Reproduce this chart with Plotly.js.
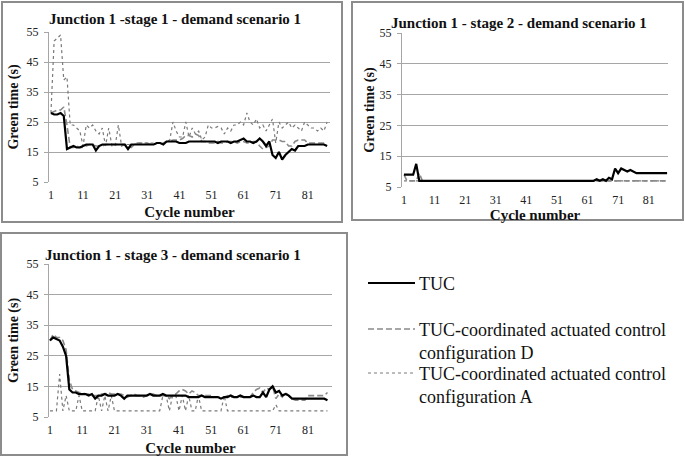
<!DOCTYPE html>
<html>
<head>
<meta charset="utf-8">
<script src="https://cdn.plot.ly/plotly-3.0.1.min.js"></script>
<style>
  html, body { margin:0; padding:0; background:#fff; }
  #chart { width:685px; height:457px; }
</style>
</head>
<body>
<div id="chart"></div>
<script>
// cycle numbers 1..87
const cycles = Array.from({length:87}, (_, i) => i + 1);
const xTicks = [1, 11, 21, 31, 41, 51, 61, 71, 81];
const yTicks = [5, 15, 25, 35, 45, 55];

const seriesNames = [
  "TUC",
  "TUC-coordinated actuated control<br>configuration D",
  "TUC-coordinated actuated control<br>configuration A"
];

// stage 1
const s1Tuc = [
  28, 27.5, 27.5, 28, 27, 16, 16.5, 17, 16.5, 16.5,
  17, 17.5, 17.5, 17.5, 15.5, 17, 17.5, 17.5, 17.5, 17.5,
  17.5, 17.5, 17.5, 17.5, 16, 17.5, 17.5, 17.5, 17.5, 17.5,
  17.5, 17.5, 17.5, 18, 18, 17.5, 18.5, 18.5, 18.5, 18.5,
  18, 18, 18, 18.5, 18.5, 18.5, 18.5, 18.5, 18.5, 18.5,
  18.5, 18.5, 18, 18.5, 18.5, 18.5, 18, 18.5, 18.5, 19,
  19.5, 18.5, 18.5, 18, 18.5, 19.5, 18.5, 17, 18.5, 14,
  13, 15, 12.5, 14, 15, 16, 15.5, 17, 17, 17,
  17.5, 17.5, 17.5, 17.5, 17.5, 17.5, 17
];
const s1ConfD = [
  28, 28.5, 29, 29, 30, 24, 16.5, 16.5, 17, 16.5,
  16.5, 17, 17.5, 17.5, 17, 17, 17, 17.5, 17.5, 17.5,
  17.5, 17.5, 17.5, 17.5, 17, 16.5, 17.5, 18, 18, 18,
  18, 17.5, 17.5, 18, 18, 18, 18.5, 18.5, 19, 19,
  19, 19.5, 20.5, 20.5, 20, 21, 20.5, 18.5, 18.5, 18,
  18, 18, 18.5, 18, 18, 18.5, 18.5, 18.5, 18, 18.5,
  18.5, 18, 18, 18.5, 18.5, 17, 16, 16.5, 17, 19,
  19, 19, 18.5, 18.5, 17, 17, 18.5, 19, 19, 19,
  18, 18, 18, 18, 18, 18, 18
];
const s1ConfA = [
  28, 52, 53, 54, 39, 40, 24, 24, 23, 22,
  17, 24, 23, 24, 22, 21, 23, 17, 23, 17,
  17, 24, 17, 17.5, 17.5, 17.5, 17.5, 18, 18, 18,
  18, 18, 18, 18, 18, 18, 18.5, 19, 25, 22,
  20, 20, 25, 20, 23, 21, 22, 19, 20, 24,
  23, 23, 23.5, 23, 21, 23, 22, 24, 24, 25,
  24, 28, 25, 24, 26, 23, 24, 22, 24, 26,
  18, 25, 23, 24, 25, 23, 24, 23, 22, 25,
  24, 23, 23, 22, 23, 22, 25
];

// stage 2
const s2Tuc = [
  9, 9, 9, 9, 12.5, 7, 7, 7, 7, 7,
  7, 7, 7, 7, 7, 7, 7, 7, 7, 7,
  7, 7, 7, 7, 7, 7, 7, 7, 7, 7,
  7, 7, 7, 7, 7, 7, 7, 7, 7, 7,
  7, 7, 7, 7, 7, 7, 7, 7, 7, 7,
  7, 7, 7, 7, 7, 7, 7, 7, 7, 7,
  7, 7, 7, 7.5, 7, 7.5, 7, 8, 7.5, 11,
  9.5, 11, 10.5, 10, 10.5, 10, 9.5, 9.5, 9.5, 9.5,
  9.5, 9.5, 9.5, 9.5, 9.5, 9.5, 9.5
];
const s2ConfD = [
  9, 7, 7, 7, 7, 9.5, 7, 7, 7, 7,
  7, 7, 7, 7, 7, 7, 7, 7, 7, 7,
  7, 7, 7, 7, 7, 7, 7, 7, 7, 7,
  7, 7, 7, 7, 7, 7, 7, 7, 7, 7,
  7, 7, 7, 7, 7, 7, 7, 7, 7, 7,
  7, 7, 7, 7, 7, 7, 7, 7, 7, 7,
  7, 7, 7, 7, 7, 7, 7, 7, 7, 7,
  7, 7, 7, 7, 7, 7, 7, 7, 7, 7,
  7, 7, 7, 7, 7, 7, 7
];
const s2ConfA = [
  7, 7, 7, 7, 7, 7, 7, 7, 7, 7,
  7, 7, 7, 7, 7, 7, 7, 7, 7, 7,
  7, 7, 7, 7, 7, 7, 7, 7, 7, 7,
  7, 7, 7, 7, 7, 7, 7, 7, 7, 7,
  7, 7, 7, 7, 7, 7, 7, 7, 7, 7,
  7, 7, 7, 7, 7, 7, 7, 7, 7, 7,
  7, 7, 7, 7, 7, 7, 7, 7, 7, 7,
  7, 7, 7, 7, 7, 7, 7, 7, 7, 7,
  7, 7, 7, 7, 7, 7, 7
];

// stage 3
const s3Tuc = [
  30, 31, 30.5, 30, 28, 25, 14, 13, 13, 12.5,
  12.5, 12.5, 12, 12.5, 11, 12, 12, 12.5, 12, 12,
  12, 12.5, 12, 11, 12, 12, 12, 12, 12, 12,
  12, 12.5, 12, 12, 12, 12.5, 12, 12, 12, 12,
  12, 12, 12, 11.5, 11.5, 11.5, 11.5, 12, 11.5, 11.5,
  11.5, 11.5, 11.5, 11, 11.5, 11.5, 12, 11.5, 11.5, 12,
  11.5, 11.5, 11.5, 12, 11.5, 11.5, 13, 11.5, 14, 15,
  13, 13.5, 12, 12.5, 12, 11, 11, 11, 11, 11,
  11, 11, 11, 11, 11, 11, 10.5
];
const s3ConfD = [
  30, 32, 31, 31, 30, 27, 17, 14, 13.5, 13,
  13, 12.5, 12.5, 12, 12, 12, 12.5, 12.5, 13, 12.5,
  12.5, 12.5, 12.5, 12, 11.5, 12, 12.5, 12, 12, 11.5,
  12, 12.5, 12.5, 12, 12, 12, 12, 11, 12, 12.5,
  13.5, 14, 13.5, 12.5, 13.5, 13, 12, 12, 12, 12,
  12, 11.5, 11.5, 11.5, 11.5, 12, 11.5, 11.5, 11.5, 11.5,
  11.5, 11.5, 11.5, 13, 14, 14.5, 13, 14.5, 14, 15,
  11, 12.5, 11.5, 13, 12, 11, 10.5, 10.5, 10.5, 10.5,
  12, 12, 12, 12, 12, 12, 13
];
const s3ConfA = [
  7, 7, 7, 19, 7, 12, 7, 7, 7, 12,
  7, 7, 7, 7, 7, 12, 7, 12, 7, 12,
  7, 7, 7, 7, 7, 7, 7, 7, 7, 7,
  7, 7, 7, 7, 7, 12, 12, 7, 12, 12,
  7, 12, 7, 12, 7, 7, 12, 7, 7, 7,
  7, 7, 7, 7, 12, 7, 7, 7, 7, 7,
  7, 7, 7, 7, 7, 7, 7, 7, 7, 7,
  9, 7, 7, 7, 7, 7, 7, 7, 7, 7,
  7, 7, 7, 7, 7, 7, 7
];

const panelTitles = [
  "Junction 1 -stage 1 - demand scenario 1",
  "Junction 1 - stage 2 - demand scenario 1",
  "Junction 1 - stage 3 - demand scenario 1"
];

const W = 685, H = 457;
const px = x => x / W;
const py = y => 1 - y / H;

const serif = "'Liberation Serif', 'Times New Roman', serif";
const gridCol = "#a6a6a6";
const styles = [
  { color:"#000000", width:2.2, dash:"solid" },
  { color:"#8a8a8a", width:1.6, dash:"6px,3px" },
  { color:"#7a7a7a", width:1.2, dash:"dot" }
];

const panels = [
  { data:[s1ConfA, s1ConfD, s1Tuc], x:"x", y:"y" },
  { data:[s2ConfA, s2ConfD, s2Tuc], x:"x2", y:"y2" },
  { data:[s3ConfA, s3ConfD, s3Tuc], x:"x3", y:"y3" }
];

const traces = [];
panels.forEach(p => {
  // draw A, then D, then TUC on top
  [2, 1, 0].forEach((si, k) => {
    traces.push({
      x: cycles, y: p.data[k], type:"scatter", mode:"lines",
      name: seriesNames[si], xaxis:p.x, yaxis:p.y,
      line: styles[si], hoverinfo:"skip", showlegend:false
    });
  });
});

function xAxis(l, r, range, standoff){
  return {
    domain:[px(l), px(r)], range:range, tickvals:xTicks,
    showgrid:false, zeroline:false, showline:false, ticks:"",
    ticklabelstandoff:4,
    tickfont:{family:serif, size:12, color:"#222"},
    title:{text:"Cycle number", font:{family:serif, size:15, color:"#111", weight:"bold"}, standoff:standoff},
    fixedrange:true
  };
}
function yAxis(bottom, top, anchor, standoff){
  return {
    domain:[py(bottom), py(top)], range:[5, 55], tickvals:yTicks, anchor:anchor,
    showgrid:true, gridcolor:gridCol, gridwidth:1, zeroline:false,
    showline:true, linecolor:gridCol, linewidth:1,
    ticks:"outside", ticklen:4, tickcolor:gridCol, ticklabelstandoff:3,
    tickfont:{family:serif, size:12, color:"#222"},
    title:{text:"Green time (s)", font:{family:serif, size:14, color:"#111", weight:"bold"}, standoff:standoff},
    fixedrange:true
  };
}

const boxes = [
  [2, 2, 342, 222],
  [352, 2, 683, 220],
  [1, 233, 347, 455]
];
const shapes = boxes.map(b => ({
  type:"rect", xref:"paper", yref:"paper",
  x0:px(b[0]), y0:py(b[1]), x1:px(b[2]), y1:py(b[3]),
  line:{color:"#8c8c8c", width:2}, fillcolor:"rgba(0,0,0,0)"
}));

const annotations = [
  { x:px(175), y:py(19), text:panelTitles[0] },
  { x:px(519), y:py(23), text:panelTitles[1] },
  { x:px(173), y:py(255), text:panelTitles[2] }
].map(a => ({
  ...a, xref:"paper", yref:"paper", showarrow:false,
  xanchor:"center", yanchor:"middle",
  font:{family:serif, size:15, color:"#111", weight:"bold"}
}));

// legend block
const legendRows = [
  { y:283, text:seriesNames[0], s:0 },
  { y:329, text:seriesNames[1], s:1 },
  { y:373, text:seriesNames[2], s:2 }
];
legendRows.forEach(r => {
  shapes.push({
    type:"line", xref:"paper", yref:"paper",
    x0:px(368), x1:px(415), y0:py(r.y), y1:py(r.y),
    line:styles[r.s]
  });
  annotations.push({
    xref:"paper", yref:"paper", x:px(417), y:py(r.y - 11),
    xanchor:"left", yanchor:"top", align:"left", showarrow:false,
    text:r.text, font:{family:serif, size:18, color:"#111"}
  });
});

const layout = {
  width:W, height:H,
  margin:{l:0, r:0, t:0, b:0},
  paper_bgcolor:"#ffffff", plot_bgcolor:"#ffffff",
  showlegend:false,
  xaxis: xAxis(49, 330, [0.4, 87.9], 5),
  yaxis: yAxis(182, 32, "x", 4),
  xaxis2: xAxis(402, 668, [0.35, 87.3], 1),
  yaxis2: yAxis(187, 33, "x2", 1),
  xaxis3: xAxis(49, 332, [0.7, 88.4], 6),
  yaxis3: yAxis(417, 264, "x3", 4),
  shapes: shapes,
  annotations: annotations
};
layout.xaxis.anchor = "y";
layout.xaxis2.anchor = "y2";
layout.xaxis3.anchor = "y3";

Plotly.newPlot("chart", traces, layout, {displayModeBar:false, staticPlot:true});
</script>
</body>
</html>
